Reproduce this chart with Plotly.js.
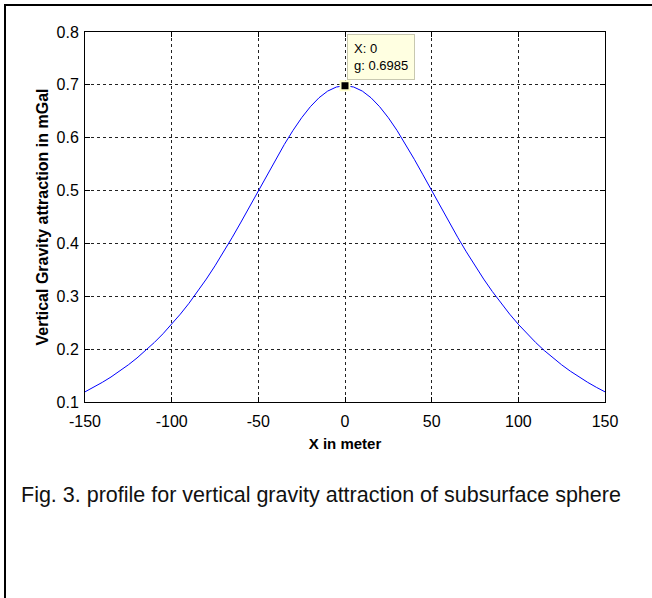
<!DOCTYPE html>
<html>
<head>
<meta charset="utf-8">
<script src="https://cdn.plot.ly/plotly-3.0.1.min.js"></script>
<style>
html, body { margin: 0; padding: 0; background: #fff; }
#wrap { position: relative; width: 652px; height: 598px; overflow: hidden; }
#frame { position: absolute; left: 4px; top: 4px; width: 700px; height: 700px; border-left: 2px solid #000; border-top: 2px solid #000; }
#chart { position: absolute; left: 0; top: 0; width: 652px; height: 598px; }
</style>
</head>
<body>
<div id="wrap"><div id="frame"></div><div id="chart"></div></div>
<script>
// Distance along profile (m)
const xMeters = [-150,-145,-140,-135,-130,-125,-120,-115,-110,-105,-100,-95,-90,-85,-80,-75,-70,-65,-60,-55,-50,-45,-40,-35,-30,-25,-20,-15,-10,-5,
  0,5,10,15,20,25,30,35,40,45,50,55,60,65,70,75,80,85,90,95,100,105,110,115,120,125,130,135,140,145,150];
// Vertical gravity attraction (mGal)
const gValues = [0.1192,0.1278,0.1372,0.1473,0.1583,0.1703,0.1833,0.1973,0.2126,0.2291,0.2470,0.2662,0.2868,0.3090,0.3326,0.3576,0.3841,0.4117,0.4404,0.4699,0.4998,0.5297,0.5591,0.5873,0.6138,0.6378,0.6586,0.6756,0.6882,0.6959,
  0.6985,0.6959,0.6882,0.6756,0.6586,0.6378,0.6138,0.5873,0.5591,0.5297,0.4998,0.4699,0.4404,0.4117,0.3841,0.3576,0.3326,0.3090,0.2868,0.2662,0.2470,0.2291,0.2126,0.1973,0.1833,0.1703,0.1583,0.1473,0.1372,0.1278,0.1192];
const xTicks = [-150,-100,-50,0,50,100,150];
const yTicks = [0.1,0.2,0.3,0.4,0.5,0.6,0.7,0.8];
const tipX = [0];
const tipG = [0.6985];

const traces = [
  { x: xMeters, y: gValues, type: 'scatter', mode: 'lines', line: { color: '#0000ff', width: 1 }, hoverinfo: 'skip' },
  { x: tipX, y: tipG, type: 'scatter', mode: 'markers', marker: { symbol: 'square', size: 9, color: '#000', line: { color: '#ffffcc', width: 2 } }, hoverinfo: 'skip' }
];

const axisCommon = {
  showline: true, linecolor: '#000', linewidth: 1, mirror: 'ticks',
  ticks: 'inside', ticklen: 5, tickcolor: '#000',
  showgrid: true, gridcolor: '#222', griddash: '3px,3px', gridwidth: 1,
  zeroline: false, tickfont: { family: 'Arial, Liberation Sans', size: 16, color: '#000' }
};

const layout = {
  width: 652, height: 598,
  margin: { l: 85, r: 47, t: 32, b: 196 },
  paper_bgcolor: 'rgba(0,0,0,0)', plot_bgcolor: '#fff',
  showlegend: false,
  xaxis: Object.assign({}, axisCommon, {
    range: [-150, 150], tickvals: xTicks, ticktext: xTicks.map(String), ticklabelstandoff: 5,
    title: { text: '<b>X in meter</b>', font: { family: 'Arial, Liberation Sans', size: 15, color: '#000' }, standoff: 9 }
  }),
  yaxis: Object.assign({}, axisCommon, {
    range: [0.1, 0.8], tickvals: yTicks, ticktext: yTicks.map(v => v.toFixed(1)), ticklabelstandoff: 2,
    title: { text: '<b>Vertical Gravity attraction in mGal</b>', font: { family: 'Arial, Liberation Sans', size: 16, color: '#000' }, standoff: 3 }
  }),
  annotations: [
    { x: tipX[0], y: tipG[0], xref: 'x', yref: 'y', xanchor: 'left', yanchor: 'bottom', xshift: 2, yshift: 6,
      showarrow: false, align: 'left', text: 'X: ' + tipX[0] + '<br>g: ' + tipG[0],
      font: { family: 'Arial, Liberation Sans', size: 13, color: '#000' },
      bgcolor: '#ffffe1', bordercolor: '#c8c8b0', borderwidth: 1, borderpad: 6 },
    { x: 0.454, y: -0.289, xref: 'paper', yref: 'paper', showarrow: false,
      text: 'Fig. 3. profile for vertical gravity attraction of subsurface sphere',
      font: { family: 'Arial, Liberation Sans', size: 21.5, color: '#111' } }
  ]
};

Plotly.newPlot('chart', traces, layout, { staticPlot: true, displayModeBar: false });
</script>
</body>
</html>
